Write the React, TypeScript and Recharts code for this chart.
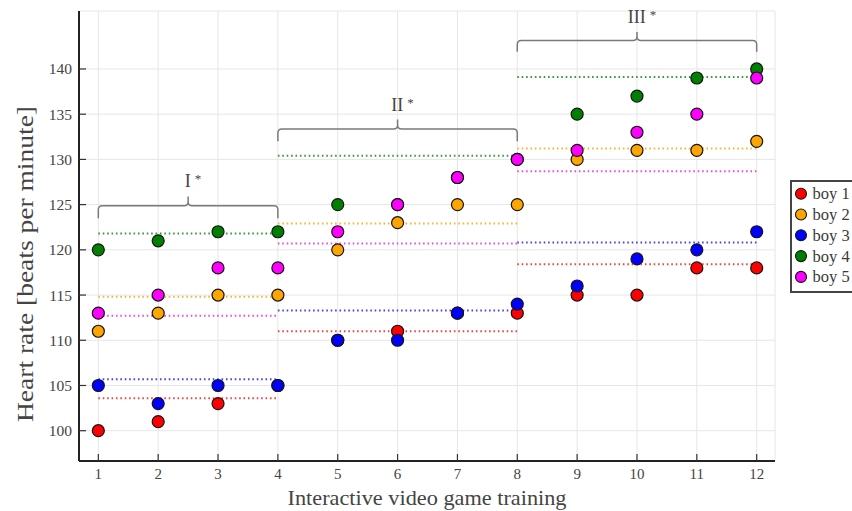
import React from 'react';
import { ScatterChart, Scatter, XAxis, YAxis, CartesianGrid, ReferenceArea } from 'recharts';

// Training sessions on the x axis
const sessions = [1, 2, 3, 4, 5, 6, 7, 8, 9, 10, 11, 12];

// Heart rate per session for each boy (beats per minute)
const boy1 = [100, 101, 103, 105, 110, 111, 113, 113, 115, 115, 118, 118];
const boy2 = [111, 113, 115, 115, 120, 123, 125, 125, 130, 131, 131, 132];
const boy3 = [105, 103, 105, 105, 110, 110, 113, 114, 116, 119, 120, 122];
const boy4 = [120, 121, 122, 122, 125, 125, 128, 130, 135, 137, 139, 140];
const boy5 = [113, 115, 118, 118, 122, 125, 128, 130, 131, 133, 135, 139];

// Mean heart rate of each boy within phases I, II and III
const boy1Means = [103.6, 111.0, 118.4];
const boy2Means = [114.8, 122.9, 131.2];
const boy3Means = [105.7, 113.3, 120.8];
const boy4Means = [121.8, 130.4, 139.1];
const boy5Means = [112.7, 120.7, 128.7];

const boyNames = ['boy 1', 'boy 2', 'boy 3', 'boy 4', 'boy 5'];

// Training phases (session ranges) marked with braces
const phaseLabels = ['I', 'II', 'III'];
const phaseStart = [1, 4, 8];
const phaseEnd = [4, 8, 12];

const xTicks = [1, 2, 3, 4, 5, 6, 7, 8, 9, 10, 11, 12];
const yTicks = [100, 105, 110, 115, 120, 125, 130, 135, 140];

// Styling
const FONT = '"Liberation Serif", "Times New Roman", serif';
const markerFill = ['#ff0000', '#ffa500', '#0000ff', '#008000', '#ff00ff'];
const meanStroke = ['#e24a4a', '#f2b634', '#4848d8', '#3a9a3a', '#e052e0'];
// vertical extent of each brace (bottom of the hooks, top of the centre tip)
const braceSpan: [number, number][] = [
  [123.5, 125.9],
  [132.0, 134.4],
  [141.9, 144.1],
];

const seriesValues = [boy1, boy2, boy3, boy4, boy5];
const seriesMeans = [boy1Means, boy2Means, boy3Means, boy4Means, boy5Means];

const series = boyNames.map((name, i) => ({
  name,
  fill: markerFill[i],
  meanColor: meanStroke[i],
  points: sessions.map((s, k) => ({ x: s, y: seriesValues[i][k] })),
  meanSegments: phaseStart.map((from, p) => [
    { x: from, y: seriesMeans[i][p] },
    { x: phaseEnd[p], y: seriesMeans[i][p] },
  ]),
}));

const Marker = (props: any) => {
  const { cx, cy, fill } = props;
  if (cx == null || cy == null) return <g />;
  return <circle cx={cx} cy={cy} r={6} fill={fill} stroke="#151515" strokeWidth={1.2} />;
};

const NoMarker = () => <g />;

const XTick = (props: any) => {
  const { x, y, payload } = props;
  return (
    <g>
      <line x1={x} x2={x} y1={y} y2={y - 7} stroke="#333" strokeWidth={1.2} />
      <text x={x} y={y + 13} textAnchor="middle" dominantBaseline="central" fontFamily={FONT} fontSize={15} fill="#444">
        {payload.value}
      </text>
    </g>
  );
};

const YTick = (props: any) => {
  const { x, y, payload } = props;
  return (
    <g>
      <line x1={x} x2={x + 7} y1={y} y2={y} stroke="#333" strokeWidth={1.2} />
      <text x={x - 7} y={y} textAnchor="end" dominantBaseline="central" fontFamily={FONT} fontSize={15.5} fill="#444">
        {payload.value}
      </text>
    </g>
  );
};

const makeBrace = (label: string) => (props: any) => {
  const { x, y, width, height } = props;
  const r = 4;
  const left = x;
  const right = x + width;
  const bottom = y + height;
  const mid = y + height * 0.43;
  const cx = x + width / 2;
  const d = [
    `M ${left} ${bottom}`,
    `L ${left} ${mid + r}`,
    `Q ${left} ${mid} ${left + r} ${mid}`,
    `L ${cx - r} ${mid}`,
    `Q ${cx} ${mid} ${cx} ${mid - r}`,
    `L ${cx} ${y}`,
    `M ${cx} ${mid - r}`,
    `Q ${cx} ${mid} ${cx + r} ${mid}`,
    `L ${right - r} ${mid}`,
    `Q ${right} ${mid} ${right} ${mid + r}`,
    `L ${right} ${bottom}`,
  ].join(' ');
  return (
    <g>
      <path d={d} fill="none" stroke="#7a7a7a" strokeWidth={1.5} />
      <text x={cx + 5} y={y - 9} textAnchor="middle" fontFamily={FONT} fontSize={18} fill="#444">
        <tspan>{label}</tspan>
        <tspan dx={4} dy={-4} fontSize={13}>*</tspan>
      </text>
    </g>
  );
};

const XLabel = (props: any) => {
  const vb = props.viewBox || { x: 79, y: 461, width: 696 };
  const cx = vb.x + vb.width / 2;
  return (
    <text x={cx} y={505} textAnchor="middle" fontFamily={FONT} fontSize={22} fill="#444" textLength={279} lengthAdjust="spacingAndGlyphs">
      Interactive video game training
    </text>
  );
};

const YLabel = () => (
  <text
    x={25}
    y={264}
    dy="0.35em"
    transform="rotate(-90 25 264)"
    textAnchor="middle"
    fontFamily={FONT}
    fontSize={23.5}
    fill="#444"
    textLength={316}
    lengthAdjust="spacingAndGlyphs"
  >
    Heart rate [beats per minute]
  </text>
);

const LegendBox = () => (
  <div
    style={{
      position: 'absolute',
      left: 790,
      top: 180,
      width: 120,
      height: 109,
      border: '2px solid #444',
      background: '#fff',
    }}
  >
    <svg width={120} height={109} style={{ display: 'block' }}>
      {series.map((s, i) => (
        <g key={s.name}>
          <circle cx={9} cy={11.7 + i * 20.8} r={5.5} fill={s.fill} stroke="#151515" strokeWidth={1.1} />
          <text x={20.5} y={11.7 + i * 20.8} dominantBaseline="central" fontFamily={FONT} fontSize={16.5} fill="#3a3a3a">
            {s.name}
          </text>
        </g>
      ))}
    </svg>
  </div>
);

export default function App() {
  return (
    <div style={{ position: 'absolute', left: 0, top: 0, width: 852, height: 511, overflow: 'hidden', background: '#fff' }}>
      <ScatterChart width={852} height={511} margin={{ top: 11, right: 77, bottom: 0, left: 0 }}>
        <CartesianGrid stroke="#e6e6e6" strokeWidth={1} />
        <XAxis
          type="number"
          dataKey="x"
          domain={[0.677, 12.306]}
          ticks={xTicks}
          allowDataOverflow
          height={50}
          axisLine={{ stroke: '#222', strokeWidth: 2 }}
          tickLine={false}
          tickSize={0}
          tickMargin={0}
          tick={XTick}
          label={XLabel}
        />
        <YAxis
          type="number"
          dataKey="y"
          domain={[96.65, 146.41]}
          ticks={yTicks}
          allowDataOverflow
          width={79}
          axisLine={{ stroke: '#222', strokeWidth: 2 }}
          tickLine={false}
          tickSize={0}
          tickMargin={0}
          tick={YTick}
          label={YLabel}
        />
        {phaseLabels.map((label, p) => (
          <ReferenceArea
            key={label}
            x1={phaseStart[p]}
            x2={phaseEnd[p]}
            y1={braceSpan[p][0]}
            y2={braceSpan[p][1]}
            ifOverflow="visible"
            shape={makeBrace(label)}
          />
        ))}
        {series.map((s) =>
          s.meanSegments.map((seg, p) => (
            <Scatter
              key={`${s.name}-mean-${p}`}
              data={seg}
              fill={s.meanColor}
              line={{ strokeWidth: 2, strokeDasharray: '1.6 2.8' }}
              lineType="joint"
              shape={NoMarker}
              legendType="none"
              isAnimationActive={false}
            />
          ))
        )}
        {series.map((s) => (
          <Scatter
            key={s.name}
            name={s.name}
            data={s.points}
            fill={s.fill}
            shape={Marker}
            isAnimationActive={false}
          />
        ))}
      </ScatterChart>
      <LegendBox />
    </div>
  );
}
